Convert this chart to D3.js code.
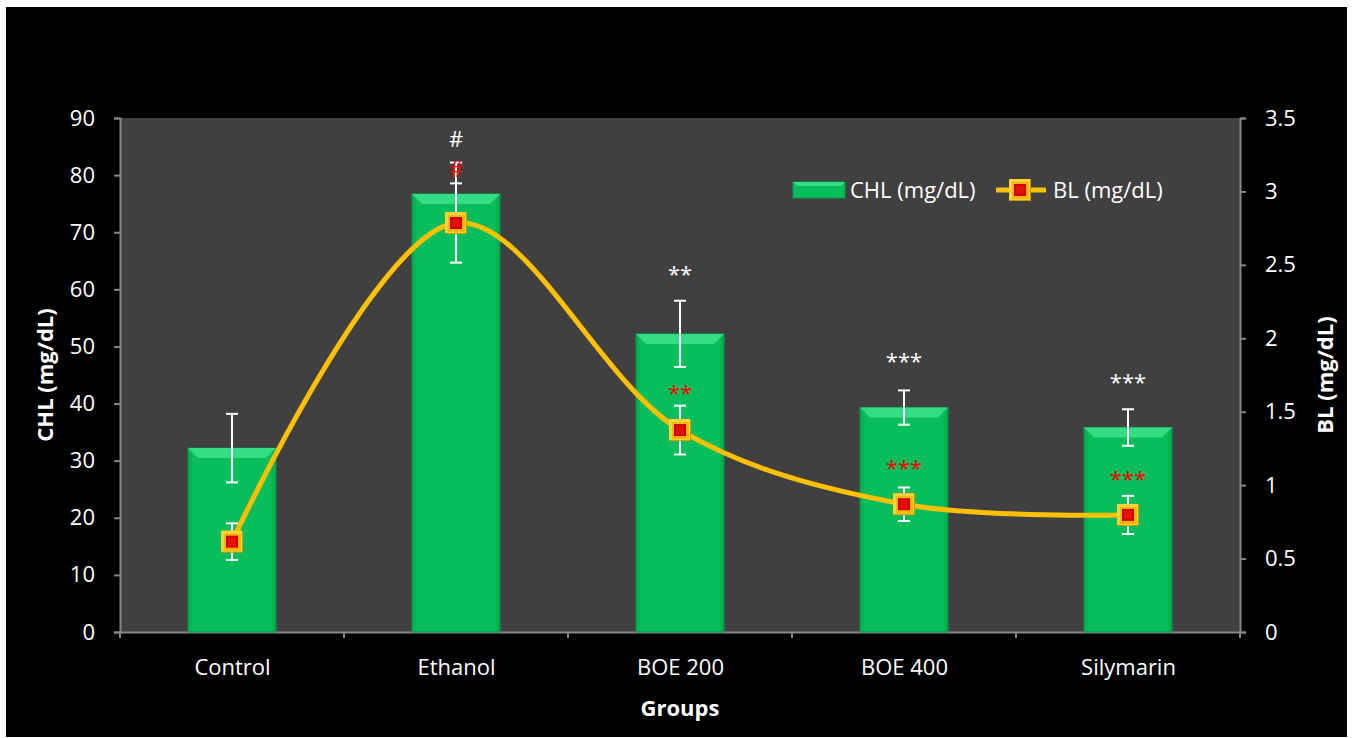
<!DOCTYPE html>
<html>
<head>
<meta charset="utf-8">
<script src="https://cdn.jsdelivr.net/npm/d3@7"></script>
<style>
  body { margin: 0; background: #fff; }
  svg { display: block; font-family: "Open Sans", Lato, sans-serif; }
</style>
</head>
<body>
<div id="chart"></div>
<script>
var groups = ['Control', 'Ethanol', 'BOE 200', 'BOE 400', 'Silymarin'];
var chl_values = [32.2, 76.7, 52.2, 39.3, 35.8];
var chl_errors = [6.0, 5.5, 5.8, 3.0, 3.2];
var bl_values = [0.615, 2.785, 1.375, 0.87, 0.797];
var bl_errors = [0.125, 0.27, 0.166, 0.114, 0.13];
var chl_marks = ['', '#', '**', '***', '***'];
var bl_marks = ['', '#', '**', '***', '***'];
// label baselines, in axis units
var chl_mark_values = [0, 84.9, 61.3, 46.05, 42.4];
var bl_mark_values = [0, 3.098, 1.573, 1.062, 0.987];
var left_ticks = [0, 10, 20, 30, 40, 50, 60, 70, 80, 90];
var right_ticks = [0, 0.5, 1, 1.5, 2, 2.5, 3, 3.5];

var W = 1352, H = 738;
var plot = {left: 120, top: 118, right: 1240, bottom: 632};
var font_size = '22px';

var svg = d3.select('#chart').append('svg')
    .attr('width', W)
    .attr('height', H);

var defs = svg.append('defs');
var gb = defs.append('linearGradient').attr('id', 'barg').attr('x1', 0).attr('x2', 1).attr('y1', 0).attr('y2', 0);
gb.append('stop').attr('offset', '0%').attr('stop-color', '#06a94f');
gb.append('stop').attr('offset', '6%').attr('stop-color', '#08bd5b');
gb.append('stop').attr('offset', '94%').attr('stop-color', '#08bd5b');
gb.append('stop').attr('offset', '100%').attr('stop-color', '#06a54d');

svg.append('rect')
    .attr('x', 6).attr('y', 7)
    .attr('width', 1341).attr('height', 730)
    .attr('fill', '#000');

svg.append('rect')
    .attr('x', plot.left).attr('y', plot.top)
    .attr('width', plot.right - plot.left).attr('height', plot.bottom - plot.top)
    .attr('fill', '#404040');

var x_scale = d3.scaleBand()
    .domain(groups)
    .range([plot.left, plot.right])
    .paddingInner(0.607)
    .paddingOuter(0.3035);

var x_center = d3.scalePoint()
    .domain(groups)
    .range([plot.left, plot.right])
    .padding(0.5);

var y_left = d3.scaleLinear().domain([0, 90]).range([plot.bottom, plot.top]);
var y_right = d3.scaleLinear().domain([0, 3.5]).range([plot.bottom, plot.top]);

var axis_color = '#868686';

//Axes
var left_axis = svg.append('g')
    .attr('transform', 'translate(' + plot.left + ',0)')
    .call(d3.axisLeft(y_left).tickValues(left_ticks).tickSize(6).tickPadding(19));
var right_axis = svg.append('g')
    .attr('transform', 'translate(' + plot.right + ',0)')
    .call(d3.axisRight(y_right).tickValues(right_ticks).tickSize(6).tickPadding(19).tickFormat(d3.format('')));
var bottom_axis = svg.append('g')
    .attr('transform', 'translate(0,' + plot.bottom + ')')
    .call(d3.axisBottom(x_center).tickSize(0).tickPadding(27));

[left_axis, right_axis, bottom_axis].forEach(function(a){
    a.select('.domain').attr('stroke', axis_color).attr('stroke-width', 2);
    a.selectAll('.tick line').attr('stroke', axis_color).attr('stroke-width', 2);
    a.selectAll('text').attr('fill', '#fff').style('font-size', font_size).style('font-family', '"Open Sans", Lato, sans-serif');
});
// small tick marks under the category axis between groups
svg.append('g').selectAll('line')
    .data(d3.range(groups.length + 1))
    .enter()
    .append('line')
        .attr('x1', function(i){ return plot.left + i * (plot.right - plot.left) / groups.length; })
        .attr('x2', function(i){ return plot.left + i * (plot.right - plot.left) / groups.length; })
        .attr('y1', plot.bottom).attr('y2', plot.bottom + 6)
        .attr('stroke', axis_color).attr('stroke-width', 2);

//Bars
var bars = svg.append('g').selectAll('g')
    .data(groups)
    .enter()
    .append('g');

bars.append('rect')
    .attr('x', function(d){ return x_scale(d); })
    .attr('y', function(d, i){ return y_left(chl_values[i]); })
    .attr('width', x_scale.bandwidth())
    .attr('height', function(d, i){ return plot.bottom - y_left(chl_values[i]); })
    .attr('fill', 'url(#barg)')
    .attr('stroke', '#069a47')
    .attr('stroke-width', 1);

bars.append('path')
    .attr('d', function(d, i){
        var x0 = x_scale(d), x1 = x0 + x_scale.bandwidth(), y0 = y_left(chl_values[i]);
        return 'M' + x0 + ',' + y0 + 'L' + x1 + ',' + y0 + 'L' + (x1 - 10) + ',' + (y0 + 10) + 'L' + (x0 + 10) + ',' + (y0 + 10) + 'Z';
    })
    .attr('fill', '#34dc83');

//Error bars
var err = svg.append('g').attr('stroke', '#fff').attr('stroke-width', 2);
groups.forEach(function(g, i){
    var cx = x_center(g);
    var yt = y_left(chl_values[i] + chl_errors[i]);
    var yb = y_left(chl_values[i] - chl_errors[i]);
    err.append('line').attr('x1', cx).attr('x2', cx).attr('y1', yt).attr('y2', yb);
    err.append('line').attr('x1', cx - 6).attr('x2', cx + 6).attr('y1', yt).attr('y2', yt);
    err.append('line').attr('x1', cx - 6).attr('x2', cx + 6).attr('y1', yb).attr('y2', yb);
    var yt2 = y_right(bl_values[i] + bl_errors[i]);
    var yb2 = y_right(bl_values[i] - bl_errors[i]);
    err.append('line').attr('x1', cx).attr('x2', cx).attr('y1', yt2).attr('y2', yb2);
    err.append('line').attr('x1', cx - 6).attr('x2', cx + 6).attr('y1', yt2).attr('y2', yt2);
    err.append('line').attr('x1', cx - 6).attr('x2', cx + 6).attr('y1', yb2).attr('y2', yb2);
});

//BL line
var line = d3.line()
    .x(function(d, i){ return x_center(groups[i]); })
    .y(function(d){ return y_right(d); })
    .curve(d3.curveCatmullRom.alpha(0.5));

svg.append('path')
    .datum(bl_values)
    .attr('d', line)
    .attr('fill', 'none')
    .attr('stroke', '#ffc000')
    .attr('stroke-width', 5);

function marker(sel, cx, cy){
    var g = sel.append('g').attr('transform', 'translate(' + cx + ',' + cy + ')');
    g.append('rect').attr('x', -11).attr('y', -11).attr('width', 22).attr('height', 22).attr('fill', '#c99700');
    g.append('rect').attr('x', -11).attr('y', -11).attr('width', 21).attr('height', 21).attr('fill', '#ffd23a');
    g.append('rect').attr('x', -8).attr('y', -8).attr('width', 17).attr('height', 17).attr('fill', '#f5b800');
    g.append('rect').attr('x', -6).attr('y', -6).attr('width', 12).attr('height', 12).attr('fill', '#d40000');
    g.append('rect').attr('x', -4).attr('y', -4).attr('width', 8).attr('height', 8).attr('fill', '#e41010');
}

var markers = svg.append('g');
groups.forEach(function(g, i){
    marker(markers, x_center(g), y_right(bl_values[i]));
});

//Significance labels
svg.append('g').selectAll('text')
    .data(groups)
    .enter()
    .append('text')
        .attr('x', function(d){ return x_center(d); })
        .attr('y', function(d, i){ return y_left(chl_mark_values[i]); })
        .attr('text-anchor', 'middle')
        .attr('fill', '#fff')
        .style('font-size', font_size)
        .text(function(d, i){ return chl_marks[i]; });

svg.append('g').selectAll('text')
    .data(groups)
    .enter()
    .append('text')
        .attr('x', function(d){ return x_center(d); })
        .attr('y', function(d, i){ return y_right(bl_mark_values[i]); })
        .attr('text-anchor', 'middle')
        .attr('fill', '#ff0000')
        .style('font-size', font_size)
        .text(function(d, i){ return bl_marks[i]; });

//Axis titles
svg.append('text')
    .attr('transform', 'translate(53,375)rotate(-90)')
    .attr('text-anchor', 'middle')
    .attr('fill', '#fff')
    .style('font-size', font_size).style('font-weight', 'bold')
    .text('CHL (mg/dL)');

svg.append('text')
    .attr('transform', 'translate(1333,375)rotate(-90)')
    .attr('text-anchor', 'middle')
    .attr('fill', '#fff')
    .style('font-size', font_size).style('font-weight', 'bold')
    .text('BL (mg/dL)');

svg.append('text')
    .attr('x', 680).attr('y', 716)
    .attr('text-anchor', 'middle')
    .attr('fill', '#fff')
    .style('font-size', font_size).style('font-weight', 'bold')
    .text('Groups');

//Legend
var legend = svg.append('g');
legend.append('rect').attr('x', 793).attr('y', 182).attr('width', 52).attr('height', 16)
    .attr('fill', '#08bd5b').attr('stroke', '#069a47');
legend.append('path').attr('d', 'M793,182L845,182L841,186L797,186Z').attr('fill', '#34dc83');
legend.append('text').attr('x', 850).attr('y', 198).attr('fill', '#fff').style('font-size', font_size).text('CHL (mg/dL)');
legend.append('line').attr('x1', 996).attr('x2', 1046).attr('y1', 190).attr('y2', 190)
    .attr('stroke', '#ffc000').attr('stroke-width', 5);
marker(legend, 1020, 190);
legend.append('text').attr('x', 1053).attr('y', 198).attr('fill', '#fff').style('font-size', font_size).text('BL (mg/dL)');
</script>
</body>
</html>
